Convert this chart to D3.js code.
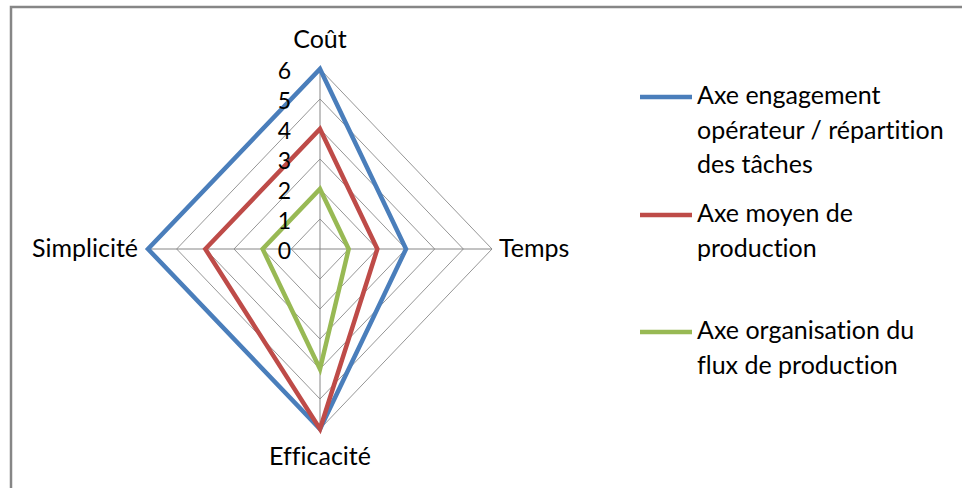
<!DOCTYPE html>
<html><head><meta charset="utf-8">
<script src="https://cdn.jsdelivr.net/npm/d3@7"></script>
<style>body{margin:0;background:#fff}svg{display:block}text{font-family:Lato,"Open Sans",sans-serif;fill:#000;font-variant-ligatures:none;font-feature-settings:"liga" 0}</style>
</head><body><svg id="c" width="962" height="488"></svg>
<script>
const axes = ["Coût", "Temps", "Efficacité", "Simplicité"];
const seriesNames = [
  ["Axe engagement", "opérateur / répartition", "des tâches"],
  ["Axe moyen de", "production"],
  ["Axe organisation du", "flux de production"]
];
const blueValues = [6, 3, 6, 6];
const redValues = [4, 2, 6, 4];
const greenValues = [2, 1, 4, 2];
const tickLabels = [0, 1, 2, 3, 4, 5, 6];
const colors = ["#4A7EBB", "#BE4B48", "#98B954"];
const allSeries = [blueValues, redValues, greenValues];

const svg = d3.select("#c");
svg.append("rect").attr("x", 11).attr("y", 7).attr("width", 1000).attr("height", 600)
  .attr("fill", "#fff").attr("stroke", "#868686").attr("stroke-width", 2.5);

const cx = 320, cy = 249;
const rx = d3.scaleLinear().domain([0, 6]).range([0, 172]);
const ry = d3.scaleLinear().domain([0, 6]).range([0, 180]);
const angle = i => i * Math.PI / 2; // 0 = up, clockwise
const pt = (i, v) => [cx + Math.sin(angle(i)) * rx(v), cy - Math.cos(angle(i)) * ry(v)];

const g = svg.append("g");
// grid rings
tickLabels.slice(1).forEach(t => {
  g.append("path").attr("d", d3.line()(axes.map((a, i) => pt(i, t))) + "Z")
    .attr("fill", "none").attr("stroke", "#969696").attr("stroke-width", 1);
});
// spokes
axes.forEach((a, i) => {
  const [x, y] = pt(i, 6);
  g.append("line").attr("x1", cx).attr("y1", cy).attr("x2", x).attr("y2", y)
    .attr("stroke", "#868686").attr("stroke-width", 1);
});
// series
allSeries.forEach((vals, s) => {
  g.append("path").attr("d", d3.line()(vals.map((v, i) => pt(i, v))) + "Z")
    .attr("fill", "none").attr("stroke", colors[s]).attr("stroke-width", 4.5)
    .attr("stroke-linejoin", "miter");
});
// tick labels
tickLabels.forEach(t => {
  g.append("text").attr("x", 291).attr("y", cy - ry(t) + 4).attr("text-anchor", "end")
    .attr("dominant-baseline", "middle").style("font-size", "23px").text(t);
});
// axis labels
const lab = [
  {x: 320, y: 42, a: "middle"},
  {x: 499, y: 251, a: "start"},
  {x: 320, y: 459, a: "middle"},
  {x: 138, y: 251, a: "end"}
];
axes.forEach((a, i) => {
  g.append("text").attr("x", lab[i].x).attr("y", lab[i].y).attr("text-anchor", lab[i].a)
    .attr("dominant-baseline", "middle").style("font-size", "25px").text(a);
});
// legend
const legY = [97, 215, 332];
seriesNames.forEach((lines, s) => {
  svg.append("line").attr("x1", 640).attr("x2", 692).attr("y1", legY[s]).attr("y2", legY[s])
    .attr("stroke", colors[s]).attr("stroke-width", 4.5);
  lines.forEach((l, k) => {
    svg.append("text").attr("x", 697).attr("y", legY[s] + k * 34.5 + 1)
      .attr("dominant-baseline", "middle").style("font-size", "25px").text(l);
  });
});
</script></body></html>
